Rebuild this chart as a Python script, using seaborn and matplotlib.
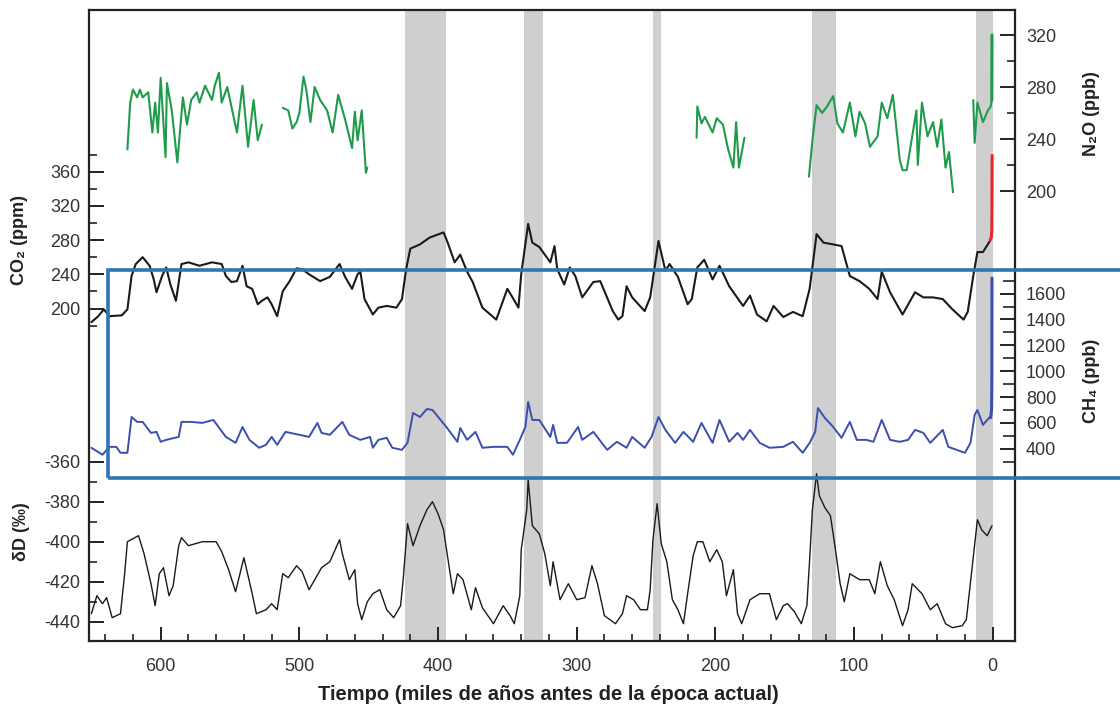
import matplotlib
matplotlib.use('Agg')
import matplotlib.pyplot as plt
from matplotlib.patches import Rectangle
from matplotlib.ticker import FixedLocator
import seaborn as sns

# Interglacial bands (ka before present)
band_old = [424, 338, 245, 130, 12]
band_young = [394, 324, 239, 113, 0]

# CO2 (ppm)
co2_age = [650, 645, 641, 637, 628, 624, 621, 618, 613, 608, 605, 603, 599, 596, 593, 589, 585,
           580, 572, 563, 556, 553, 549, 545, 541, 538, 534, 530, 527, 523, 520, 516, 512, 507,
           502, 498, 493, 485, 478, 471, 467, 462, 458, 456, 453, 447, 443, 437, 430, 426, 423,
           420, 413, 406, 396, 393, 388, 384, 379, 375, 368, 358, 350, 347, 342, 340, 335, 332,
           327, 319, 316, 314, 309, 305, 301, 296, 288, 283, 274, 270, 267, 264, 260, 251, 247,
           241, 236, 233, 227, 220, 217, 213, 208, 202, 197, 190, 180, 175, 170, 163, 158, 151,
           144, 137, 132, 127, 122, 115, 109, 103, 96, 89, 83, 80, 74, 65, 56, 50, 43, 36, 29,
           21, 18, 14, 11, 7, 2]
co2_ppm = [184, 191, 199, 191, 192, 199, 238, 252, 260, 250, 234, 219, 238, 248, 228, 209, 252,
           254, 250, 254, 252, 238, 231, 232, 250, 226, 223, 205, 209, 213, 205, 191, 220, 232,
           247, 246, 240, 232, 237, 252, 237, 223, 240, 243, 211, 193, 201, 203, 201, 211, 246,
           270, 275, 283, 289, 277, 254, 263, 243, 231, 201, 187, 223, 215, 201, 240, 299, 277,
           272, 254, 273, 246, 228, 248, 238, 213, 231, 232, 197, 187, 191, 226, 213, 197, 213,
           279, 244, 252, 237, 205, 211, 248, 257, 234, 250, 226, 203, 215, 193, 185, 203, 190,
           196, 191, 223, 287, 277, 275, 273, 238, 232, 223, 211, 243, 219, 193, 219, 213, 213,
           211, 199, 187, 196, 238, 266, 266, 279]
co2_now_age = [1.8, 1.0, 0.6, 0.5, 0.4]
co2_now_ppm = [280, 283, 292, 330, 379]

# CH4 (ppb)
ch4_age = [650, 642, 637, 632, 629, 624, 621, 617, 613, 607, 603, 600, 596, 587, 585, 578, 570,
           562, 553, 546, 541, 536, 529, 524, 520, 516, 510, 500, 493, 487, 484, 478, 469, 464,
           456, 449, 447, 443, 437, 433, 426, 422, 418, 413, 408, 404, 394, 386, 384, 379, 373,
           368, 360, 350, 346, 341, 337, 335, 332, 327, 319, 317, 314, 307, 299, 296, 288, 278,
           271, 264, 260, 251, 246, 241, 236, 229, 223, 216, 210, 202, 197, 190, 184, 180, 175,
           168, 161, 151, 144, 137, 132, 128, 126, 121, 115, 109, 103, 98, 91, 86, 80, 74, 67,
           61, 56, 50, 45, 36, 32, 26, 20, 16, 13, 11, 7, 2]
ch4_ppb = [408, 354, 415, 415, 369, 369, 646, 608, 608, 523, 531, 454, 469, 492, 608, 608, 600,
           623, 492, 446, 569, 469, 408, 431, 492, 431, 531, 508, 492, 600, 523, 508, 608, 508,
           469, 492, 408, 469, 485, 408, 392, 446, 677, 646, 708, 700, 569, 454, 561, 469, 531,
           408, 415, 415, 354, 469, 569, 762, 623, 623, 492, 585, 446, 446, 569, 469, 531, 392,
           454, 408, 492, 408, 492, 646, 546, 446, 531, 454, 600, 446, 623, 454, 523, 469, 546,
           446, 408, 415, 454, 369, 446, 531, 715, 638, 569, 485, 608, 469, 469, 454, 623, 469,
           454, 469, 546, 523, 446, 546, 415, 392, 369, 446, 662, 700, 585, 646]
ch4_now_age = [1.5, 0.8, 0.6, 0.5]
ch4_now_ppb = [640, 700, 900, 1720]

# N2O (ppb), separate ice-core sections
n2o_age_1 = [624, 622, 620, 617, 615, 613, 609, 606, 604, 602, 600, 596.5, 595.5, 592, 588, 584,
             581, 578, 574, 572, 568, 563, 561, 558, 556, 552, 549, 545, 541, 537, 533, 530, 527]
n2o_ppb_1 = [232, 268, 278, 272, 278, 272, 276, 245, 268, 245, 287, 226, 283, 262, 222, 272,
             251, 270, 276, 268, 281, 270, 281, 291, 268, 280, 265, 245, 281, 234, 270, 239, 251]
n2o_age_2 = [512, 508, 505, 502, 500, 497, 495, 492, 489, 485, 480, 476, 472, 467, 462, 460, 458,
             455, 452, 451]
n2o_ppb_2 = [264, 262, 248, 253, 260, 288, 278, 253, 280, 270, 262, 245, 274, 255, 233, 261, 239,
             262, 214, 218]
n2o_age_3 = [213.5, 213, 210, 207.5, 202, 199, 194.5, 191, 187, 185, 183, 179]
n2o_ppb_3 = [241, 265, 252, 257, 245, 256, 251, 233, 218, 253, 218, 241]
n2o_age_4 = [132.5, 130, 127, 123, 119.5, 115, 112, 108, 103, 99, 96, 92, 88.5, 83, 80, 76, 72, 67,
             65, 62, 55, 54, 51, 47, 43, 40, 37, 34, 31.5, 28.6]
n2o_ppb_4 = [211, 239, 266, 260, 265, 273, 252, 245, 268, 242, 261, 252, 234, 242, 268, 256, 274,
             224, 216, 216, 262, 220, 268, 242, 253, 234, 255, 218, 230, 199]
n2o_age_5 = [14, 13, 11, 7, 3.4, 1.5, 0.6, 0.5]
n2o_ppb_5 = [270, 237, 268, 253, 262, 265, 270, 320]

# deltaD (per mil)
dd_age = [650, 646, 642, 639, 635, 629, 626, 624, 616, 612, 607, 604, 601, 598, 594, 591, 587,
          585, 580, 570, 560, 556, 551, 546, 540, 534, 531, 524, 520, 516, 512, 508, 502, 498,
          493, 484, 478, 471, 469, 464, 460, 458, 455, 451, 447, 442, 437, 432, 427, 425, 422,
          418, 413, 408, 404, 400, 396, 393, 389, 386, 382, 376, 373, 368, 360, 353, 348, 345,
          341, 340, 336, 335, 332, 327, 323, 319, 317, 312, 306, 300, 294, 289, 285, 280, 272,
          267, 264, 259, 254, 249, 247, 245, 242, 239, 235, 231, 227, 223, 220, 216, 213, 209,
          204, 199, 195, 192, 187, 184, 181, 175, 168, 161, 156, 151, 148, 143, 138, 134, 132,
          130, 127, 125, 121, 117, 114, 110, 107, 103, 96, 89, 85, 81, 76, 71, 65, 61, 58, 51,
          45, 40, 34, 29, 22, 19, 15, 11, 8, 4, 0.5]
dd_val = [-436, -427, -431, -428, -438, -436, -416, -400, -397, -406, -421, -432, -416, -413,
          -427, -422, -402, -398, -402, -400, -400, -405, -414, -425, -408, -426, -436, -434,
          -431, -434, -416, -418, -412, -415, -424, -413, -410, -399, -406, -419, -414, -431,
          -439, -430, -426, -424, -434, -438, -432, -418, -391, -402, -392, -384, -380, -386,
          -394, -408, -426, -416, -419, -434, -423, -433, -441, -432, -437, -441, -427, -404,
          -384, -369, -392, -396, -406, -422, -410, -429, -421, -429, -428, -412, -421, -437,
          -441, -436, -427, -429, -434, -434, -424, -399, -381, -401, -410, -429, -434, -441,
          -426, -407, -400, -400, -410, -404, -410, -427, -414, -436, -441, -429, -426, -426,
          -439, -432, -431, -435, -441, -432, -409, -384, -366, -377, -383, -387, -401, -421,
          -430, -416, -419, -419, -426, -410, -422, -429, -442, -434, -421, -426, -434, -431,
          -441, -443, -442, -439, -414, -389, -394, -397, -392]

x_major = [600, 500, 400, 300, 200, 100, 0]
x_minor = [640, 620, 580, 560, 540, 520, 480, 460, 440, 420, 380, 360, 340, 320, 280, 260,
           240, 220, 180, 160, 140, 120, 80, 60, 40, 20]
co2_ticks = [200, 240, 280, 320, 360]
co2_minor = [180, 220, 260, 300, 340, 380]
dd_ticks = [-440, -420, -400, -380, -360]
dd_minor = [-430, -410, -390, -370]
ch4_ticks = [400, 600, 800, 1000, 1200, 1400, 1600]
ch4_minor = [300, 500, 700, 900, 1100, 1300, 1500, 1700]
n2o_ticks = [200, 240, 280, 320]
n2o_minor = [220, 260, 300]

sns.set_style('white')
plt.rcParams['font.family'] = ['Liberation Sans', 'DejaVu Sans']
plt.rcParams['axes.linewidth'] = 1.6
plt.rcParams['axes.unicode_minus'] = False

GREEN = '#1f9b4b'
BLUE = '#3a4fae'
RED = '#e8262b'
BLACK = '#1a1a1a'
TICKC = '#333333'

W, H = 1120, 711
fig = plt.figure(figsize=(W / 100, H / 100), dpi=100)
L, R, T, B = 89, 1015, 10, 641
ax = fig.add_axes([L / W, 1 - B / H, (R - L) / W, (B - T) / H])

# y-limits that put two known values at their pixel rows
def ylim_for(val_a, px_a, val_b, px_b):
    per_px = (val_b - val_a) / (px_a - px_b)
    return val_a - (B - px_a) * per_px, val_a + (px_a - T) * per_px

ax_dd = ax.twinx()
ax_ch4 = ax.twinx()
ax_n2o = ax.twinx()

for a0, a1 in zip(band_old, band_young):
    ax.axvspan(a0, a1, color='#cfcfcf', lw=0, zorder=0)

# CO2
sns.lineplot(x=co2_age, y=co2_ppm, ax=ax, color=BLACK, lw=1.5, estimator=None, sort=False)
sns.lineplot(x=co2_now_age, y=co2_now_ppm, ax=ax, color=RED, lw=2.2, estimator=None, sort=False)
ax.set_ylim(*ylim_for(200, 308.5, 360, 171.7))
ax.set_xlim(651.7, -16.1)

# deltaD
sns.lineplot(x=dd_age, y=dd_val, ax=ax_dd, color=BLACK, lw=1.0, estimator=None, sort=False)
ax_dd.set_ylim(*ylim_for(-360, 461.7, -440, 621.7))

# CH4
sns.lineplot(x=ch4_age, y=ch4_ppb, ax=ax_ch4, color=BLUE, lw=1.4, estimator=None, sort=False)
sns.lineplot(x=ch4_now_age, y=ch4_now_ppb, ax=ax_ch4, color=BLUE, lw=2.2, estimator=None,
             sort=False)
ax_ch4.set_ylim(*ylim_for(400, 448.8, 1600, 293.6))

# N2O
for xs, ys in [(n2o_age_1, n2o_ppb_1), (n2o_age_2, n2o_ppb_2), (n2o_age_3, n2o_ppb_3),
               (n2o_age_4, n2o_ppb_4), (n2o_age_5, n2o_ppb_5)]:
    sns.lineplot(x=xs, y=ys, ax=ax_n2o, color=GREEN, lw=1.5, estimator=None, sort=False)
sns.lineplot(x=n2o_age_5[-2:], y=n2o_ppb_5[-2:], ax=ax_n2o, color=GREEN, lw=2.2,
             estimator=None, sort=False)
ax_n2o.set_ylim(*ylim_for(200, 191, 320, 35))

for a in (ax, ax_dd, ax_ch4, ax_n2o):
    a.set_xlabel('')
    a.set_ylabel('')
    a.grid(False)
for a in (ax_dd, ax_ch4, ax_n2o):
    for s in a.spines.values():
        s.set_visible(False)
for s in ax.spines.values():
    s.set_color('#222222')

# x axis
ax.xaxis.set_major_locator(FixedLocator(x_major))
ax.xaxis.set_minor_locator(FixedLocator(x_minor))
ax.tick_params(axis='x', which='both', direction='in', bottom=True, top=False, color='#222222',
               labelsize=13, labelcolor=TICKC, pad=12)
ax.tick_params(axis='x', which='major', length=10, width=1.4)
ax.tick_params(axis='x', which='minor', length=5, width=1.2)

def setup_y(a, major, minor, side, maj_len, min_len, pad):
    a.yaxis.set_major_locator(FixedLocator(major))
    a.yaxis.set_minor_locator(FixedLocator(minor))
    a.yaxis.set_ticks_position(side)
    a.tick_params(axis='y', which='both', direction='in', color='#222222', labelsize=13,
                  labelcolor=TICKC, pad=pad)
    a.tick_params(axis='y', which='major', length=maj_len, width=1.4)
    a.tick_params(axis='y', which='minor', length=min_len, width=1.2)
    if side == 'left':
        a.tick_params(axis='y', which='both', left=True, right=False,
                      labelleft=True, labelright=False)
    else:
        a.tick_params(axis='y', which='both', left=False, right=True,
                      labelleft=False, labelright=True)

setup_y(ax, co2_ticks, co2_minor, 'left', 11, 6, 6)
setup_y(ax_dd, dd_ticks, dd_minor, 'left', 11, 6, 6)
setup_y(ax_ch4, ch4_ticks, ch4_minor, 'right', 11, 9, 8)
setup_y(ax_n2o, n2o_ticks, n2o_minor, 'right', 11, 6, 8)
ax.tick_params(axis='x', labelbottom=True)
for a in (ax_dd, ax_ch4, ax_n2o):
    a.tick_params(axis='x', which='both', bottom=False, top=False, labelbottom=False)

# axis titles
lab = dict(fontsize=13, fontweight='bold', color='#222222', ha='center', va='center',
           rotation=90)
fig.text(20 / W, 1 - 240 / H, 'CO₂ (ppm)', **lab)
fig.text(22 / W, 1 - 532 / H, 'δD (‰)', **lab)
fig.text(1092 / W, 1 - 114 / H, 'N₂O (ppb)', **lab)
fig.text(1092 / W, 1 - 381 / H, 'CH₄ (ppb)', **lab)
fig.text(548 / W, 1 - 695 / H, 'Tiempo (miles de años antes de la época actual)',
         fontsize=14.5, fontweight='bold', color='#222222', ha='center', va='center')

# highlight box around CO2 / CH4 panel
box = Rectangle((108 / W, 1 - 478 / H), 1.05, 208 / H, transform=fig.transFigure,
                fill=False, edgecolor='#2e75b6', lw=2.6, clip_on=False, zorder=10)
fig.add_artist(box)

fig.savefig('out.png', dpi=100)
